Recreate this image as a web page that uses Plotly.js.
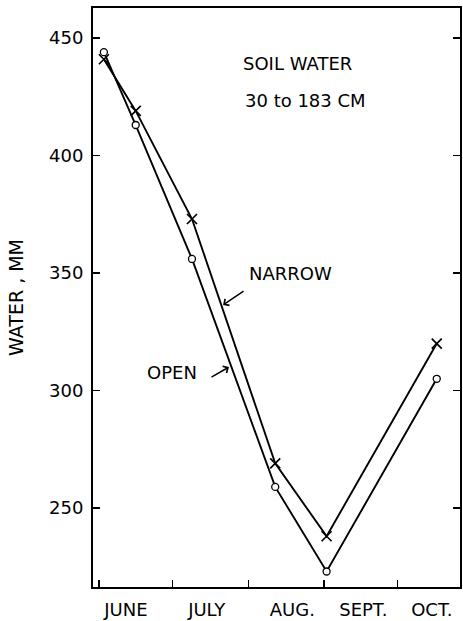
<!DOCTYPE html>
<html>
<head>
<meta charset="utf-8">
<script src="https://cdn.plot.ly/plotly-3.0.1.min.js"></script>
<style>html,body{margin:0;padding:0;background:#fff;}#chart{width:463px;height:621px;}</style>
</head>
<body>
<div id="chart"></div>
<script>
// Sampling dates as days since June 1
const sampleDays = [2, 15, 38, 72, 93, 138];
const narrowWater = [441, 419, 373, 269, 238, 320];
const openWater = [444, 413, 356, 259, 223, 305];
const monthStartDays = [0, 30, 61, 92, 122];
const monthLabels = ["JUNE", "JULY", "AUG.", "SEPT.", "OCT."];
const monthLabelDays = [11, 44, 79, 108, 136];
const yTicks = [250, 300, 350, 400, 450];

const FONT = "DejaVu Sans, sans-serif";

const traces = [
  {
    x: sampleDays, y: narrowWater, name: "NARROW", type: "scatter", mode: "lines+markers",
    line: {color: "#000", width: 1.9},
    marker: {symbol: "x-thin", size: 10, color: "#000", line: {color: "#000", width: 1.7}}
  },
  {
    x: sampleDays, y: openWater, name: "OPEN", type: "scatter", mode: "lines+markers",
    line: {color: "#000", width: 1.9},
    marker: {symbol: "circle", size: 7, color: "#fff", line: {color: "#000", width: 1.3}}
  }
];

const layout = {
  width: 463, height: 621,
  margin: {l: 93, r: 3, t: 8, b: 34},
  paper_bgcolor: "#fff", plot_bgcolor: "#fff",
  showlegend: false,
  font: {family: FONT, color: "#000", size: 18},
  xaxis: {
    range: [-2.45, 147.5],
    tickmode: "array", tickvals: monthLabelDays, ticktext: monthLabels,
    ticks: "", showgrid: false, zeroline: false,
    showline: true, linecolor: "#000", linewidth: 2, mirror: true,
    tickfont: {family: FONT, size: 18, color: "#000"},
    ticklabelstandoff: 5,
    minor: {tickmode: "array", tickvals: monthStartDays, ticks: "inside", ticklen: 7, tickwidth: 1.5, tickcolor: "#000", showgrid: false}
  },
  yaxis: {
    range: [216.4, 462.8],
    tickmode: "array", tickvals: yTicks, ticktext: yTicks.map(String),
    ticks: "inside", ticklen: 7, tickwidth: 1.5, tickcolor: "#000",
    showgrid: false, zeroline: false,
    showline: true, linecolor: "#000", linewidth: 2, mirror: "allticks",
    tickfont: {family: FONT, size: 18, color: "#000"},
    ticklabelstandoff: 4,
    title: {text: "WATER , MM", font: {family: FONT, size: 19, color: "#000"}, standoff: 20}
  },
  annotations: [
    {xref: "paper", yref: "paper", x: 0.403, y: 0.904, xanchor: "left", yanchor: "middle", showarrow: false,
     text: "SOIL WATER", font: {family: FONT, size: 18, color: "#000"}},
    {xref: "paper", yref: "paper", x: 0.408, y: 0.841, xanchor: "left", yanchor: "middle", showarrow: false,
     text: "30 to 183 CM", font: {family: FONT, size: 18, color: "#000"}},
    {xref: "paper", yref: "paper", x: 0.42, y: 0.541, xanchor: "left", yanchor: "middle", showarrow: false,
     text: "NARROW", font: {family: FONT, size: 18, color: "#000"}},
    {xref: "paper", yref: "paper", x: 0.142, y: 0.371, xanchor: "left", yanchor: "middle", showarrow: false,
     text: "OPEN", font: {family: FONT, size: 18, color: "#000"}},
    {x: 50.7, y: 336.4, ax: 22, ay: -15, axref: "pixel", ayref: "pixel", text: "", showarrow: true,
     arrowhead: 4, arrowsize: 1, arrowwidth: 1.5, arrowcolor: "#000"},
    {x: 53.1, y: 310, ax: -19, ay: 11, axref: "pixel", ayref: "pixel", text: "", showarrow: true,
     arrowhead: 4, arrowsize: 1, arrowwidth: 1.5, arrowcolor: "#000"}
  ]
};

Plotly.newPlot("chart", traces, layout, {displayModeBar: false, staticPlot: true});
</script>
</body>
</html>
